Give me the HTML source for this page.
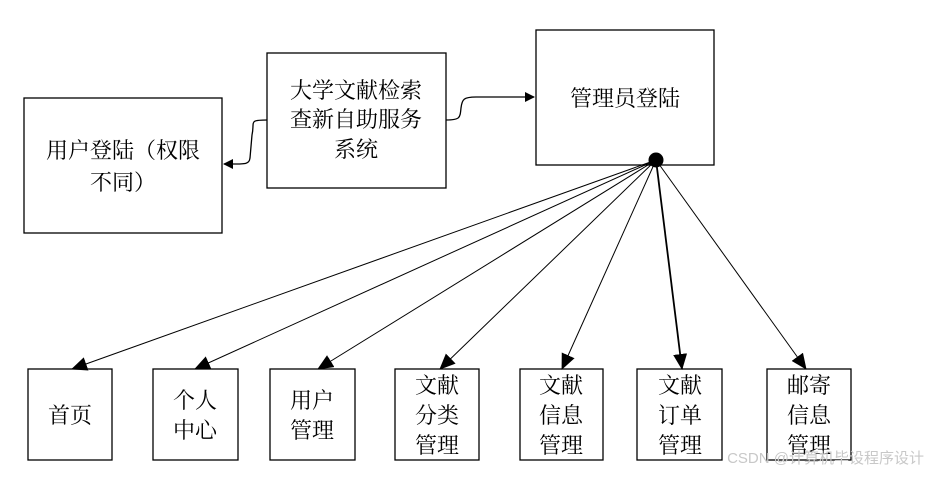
<!DOCTYPE html>
<html><head><meta charset="utf-8"><style>
body{margin:0;background:#fff;width:929px;height:472px;overflow:hidden}
text{font-family:"Liberation Serif","Noto Serif CJK SC","Noto Sans CJK SC",serif;font-size:22px;fill:#000}
</style></head><body>
<svg width="929" height="472" xmlns="http://www.w3.org/2000/svg">
<defs><marker id="a" markerWidth="10" markerHeight="10" refX="9" refY="5" orient="auto" markerUnits="userSpaceOnUse"><path d="M0,0 L10,5 L0,10 Z" fill="#000"/></marker>
<marker id="b" markerWidth="16" markerHeight="14" refX="15" refY="7" orient="auto" markerUnits="userSpaceOnUse"><path d="M0,0 L16,7 L0,14 Z" fill="#000"/></marker></defs>
<g fill="none" stroke="#000" stroke-width="1.3">
<rect x="24" y="98" width="198" height="135"/>
<rect x="267" y="53" width="179" height="135"/>
<rect x="536" y="30" width="178" height="135"/>
<rect x="28" y="369" width="84" height="91"/>
<rect x="153" y="369" width="85" height="91"/>
<rect x="270" y="369" width="85" height="91"/>
<rect x="395" y="369" width="84" height="91"/>
<rect x="520" y="369" width="83" height="91"/>
<rect x="637" y="369" width="85" height="91"/>
<rect x="767" y="369" width="84" height="91"/>
<path d="M267,120 C248,120 255,122 252,135 L250,158 C249,165 245,164 224,164" marker-end="url(#a)"/>
<path d="M446,120 C460,120 460,118 461,108 C462,99 464,97 476,97 L534,97" marker-end="url(#a)"/>
<g stroke-width="1">
<line x1="656" y1="160" x2="72" y2="369" marker-end="url(#b)"/>
<line x1="656" y1="160" x2="195" y2="369" marker-end="url(#b)"/>
<line x1="656" y1="160" x2="318" y2="369" marker-end="url(#b)"/>
<line x1="656" y1="160" x2="440" y2="369" marker-end="url(#b)"/>
<line x1="656" y1="160" x2="562" y2="369" marker-end="url(#b)"/>
<line x1="656" y1="160" x2="682" y2="369" stroke-width="1.8" marker-end="url(#b)"/>
<line x1="656" y1="160" x2="806" y2="369" marker-end="url(#b)"/>
</g></g>
<circle cx="656" cy="160" r="7.5" fill="#000"/>
<text x="123" y="158" text-anchor="middle">用户登陆（权限</text>
<text x="123" y="190" text-anchor="middle">不同）</text>
<text x="356" y="98" text-anchor="middle">大学文献检索</text>
<text x="356" y="127" text-anchor="middle">查新自助服务</text>
<text x="356" y="157" text-anchor="middle">系统</text>
<text x="625" y="106" text-anchor="middle">管理员登陆</text>
<text x="70" y="423" text-anchor="middle">首页</text>
<text x="195" y="408" text-anchor="middle">个人</text><text x="195" y="438" text-anchor="middle">中心</text>
<text x="312" y="408" text-anchor="middle">用户</text><text x="312" y="438" text-anchor="middle">管理</text>
<text x="437" y="393" text-anchor="middle">文献</text><text x="437" y="423" text-anchor="middle">分类</text><text x="437" y="453" text-anchor="middle">管理</text>
<text x="561" y="393" text-anchor="middle">文献</text><text x="561" y="423" text-anchor="middle">信息</text><text x="561" y="453" text-anchor="middle">管理</text>
<text x="680" y="393" text-anchor="middle">文献</text><text x="680" y="423" text-anchor="middle">订单</text><text x="680" y="453" text-anchor="middle">管理</text>
<text x="809" y="393" text-anchor="middle">邮寄</text><text x="809" y="423" text-anchor="middle">信息</text><text x="809" y="453" text-anchor="middle">管理</text>
<text x="924" y="463" text-anchor="end" style="font-family:'Liberation Sans','Noto Sans CJK SC',sans-serif;font-size:15px;fill:#c8c8c8">CSDN @计算机毕设程序设计</text>
</svg>
</body></html>
